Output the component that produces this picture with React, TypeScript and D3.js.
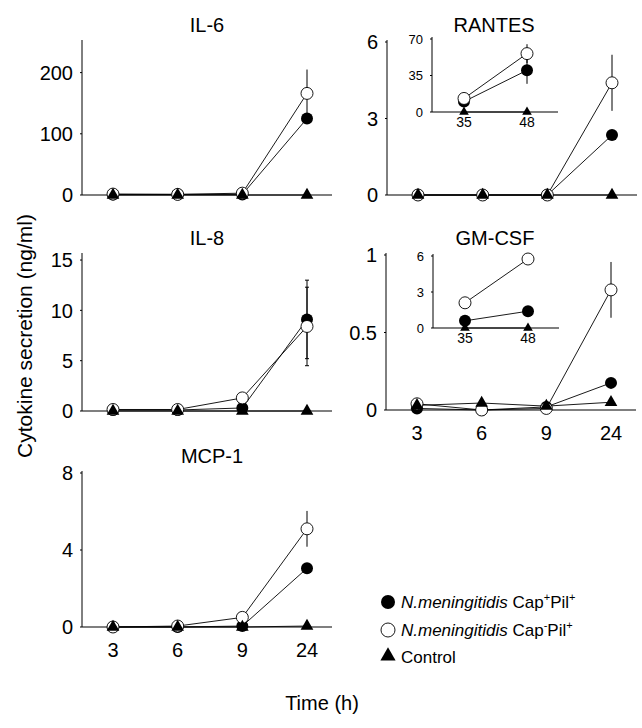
import * as d3 from "d3";

// time points (h)
const timeLabels = ["3", "6", "9", "24"];
const insetLabels = ["35", "48"];

// IL-6
const il6Filled = [1, 1, 1, 125];
const il6Open = [1.5, 1, 3, 166];
const il6Control = [0, 0, 0, 0];
const il6OpenErr = [0, 0, 0, 39];

// RANTES
const rantesFilled = [0, 0, 0, 2.35];
const rantesOpen = [0, 0, 0, 4.4];
const rantesControl = [0, 0, 0, 0];
const rantesOpenErr = [0, 0, 0, 1.1];
const rantesInsetFilled = [10, 40];
const rantesInsetOpen = [13, 56];
const rantesInsetControl = [0, 0];
const rantesInsetFilledErr = [0, 13];
const rantesInsetOpenErr = [0, 9];

// IL-8
const il8Filled = [0.1, 0.1, 0.3, 9.1];
const il8Open = [0.15, 0.15, 1.3, 8.4];
const il8Control = [0, 0, 0, 0];
const il8OpenErr = [0, 0, 0, 3.9];

// GM-CSF
const gmFilled = [0.01, 0, 0.02, 0.175];
const gmOpen = [0.04, 0, 0.01, 0.775];
const gmControl = [0.03, 0.045, 0.025, 0.05];
const gmOpenErr = [0, 0, 0, 0.18];
const gmInsetFilled = [0.6, 1.4];
const gmInsetOpen = [2.1, 5.75];
const gmInsetControl = [0, 0];
const gmInsetOpenErr = [0.3, 0];

// MCP-1
const mcpFilled = [0, 0, 0.05, 3.05];
const mcpOpen = [0, 0.05, 0.5, 5.1];
const mcpControl = [0, 0, 0, 0.05];
const mcpOpenErr = [0, 0, 0, 0.93];

const font = "'Liberation Sans', Arial, sans-serif";

function Panel(props: any) {
  const {
    x0, len, yZero, yTop, max, ticks, labels, p0, p1,
    filled, open, control, filledErr, openErr,
    showX, title, titleDx, tickSize, xTickSize, r, triSize, caps,
  } = props;
  const x = d3.scalePoint<string>().domain(labels).range([x0 + p0, x0 + p1]);
  const y = d3.scaleLinear().domain([0, max]).range([yZero, yTop]);
  const line = d3
    .line<number>()
    .x((_, i) => x(labels[i]) as number)
    .y((d) => y(d));
  const tri = d3.symbol(d3.symbolTriangle, triSize)() as string;

  const errBars = (vals: number[], errs: number[] | undefined, key: string) =>
    errs
      ? vals.map((v, i) =>
          errs[i] > 0 ? (
            <g key={key + i}>
              <line
                x1={x(labels[i])} x2={x(labels[i])}
                y1={y(v - errs[i])} y2={y(v + errs[i])}
                stroke="#000" strokeWidth={1}
              />
              {caps && (
                <>
                  <line x1={(x(labels[i]) as number) - 2} x2={(x(labels[i]) as number) + 2}
                    y1={y(v + errs[i])} y2={y(v + errs[i])} stroke="#000" />
                  <line x1={(x(labels[i]) as number) - 2} x2={(x(labels[i]) as number) + 2}
                    y1={y(v - errs[i])} y2={y(v - errs[i])} stroke="#000" />
                </>
              )}
            </g>
          ) : null
        )
      : null;

  return (
    <g fontFamily={font}>
      {title && (
        <text x={x0 + titleDx} y={yTop - 10} textAnchor="middle" fontSize={20}>
          {title}
        </text>
      )}
      <line x1={x0} x2={x0} y1={yTop - 2} y2={yZero} stroke="#000" strokeWidth={1} />
      <line x1={x0} x2={x0 + len} y1={yZero} y2={yZero} stroke="#000" strokeWidth={1.2} />
      {ticks.map((t: number) => (
        <g key={t}>
          <line x1={x0 - 2} x2={x0} y1={y(t)} y2={y(t)} stroke="#000" />
          <text x={x0 - 9} y={y(t)} dy="0.36em" textAnchor="end" fontSize={tickSize}>
            {t}
          </text>
        </g>
      ))}
      {showX &&
        labels.map((l: string) => (
          <text key={l} x={x(l)} y={yZero + (xTickSize > 16 ? 30 : 15)} textAnchor="middle" fontSize={xTickSize}>
            {l}
          </text>
        ))}
      <path d={line(filled) as string} fill="none" stroke="#000" strokeWidth={0.9} />
      <path d={line(open) as string} fill="none" stroke="#000" strokeWidth={0.9} />
      <path d={line(control) as string} fill="none" stroke="#000" strokeWidth={0.9} />
      {errBars(filled, filledErr, "fe")}
      {errBars(open, openErr, "oe")}
      {filled.map((v: number, i: number) => (
        <circle key={"f" + i} cx={x(labels[i])} cy={y(v)} r={r} fill="#000" />
      ))}
      {open.map((v: number, i: number) => (
        <circle key={"o" + i} cx={x(labels[i])} cy={y(v)} r={r} fill="#fff" stroke="#000" strokeWidth={0.9} />
      ))}
      {control.map((v: number, i: number) => (
        <path key={"c" + i} d={tri} transform={`translate(${x(labels[i])},${y(v)})`} fill="#000" />
      ))}
    </g>
  );
}

export default function App() {
  const main = { len: 250, p0: 31, p1: 225, labels: timeLabels, tickSize: 20, xTickSize: 20, r: 6, triSize: 70 };
  const inset = { len: 126, p0: 32, p1: 95, labels: insetLabels, tickSize: 13, xTickSize: 14, r: 6, triSize: 40, showX: true };
  return (
    <svg width={642} height={728} style={{ position: "absolute", left: 0, top: 0 }}>
      <rect width={642} height={728} fill="#fff" />
      <Panel {...main} title="IL-6" titleDx={125} x0={82} yZero={195} yTop={42} max={250} ticks={[0, 100, 200]}
        filled={il6Filled} open={il6Open} control={il6Control} openErr={il6OpenErr} />
      <Panel {...main} title="RANTES" titleDx={107} x0={387} yZero={195} yTop={42} max={6} ticks={[0, 3, 6]}
        filled={rantesFilled} open={rantesOpen} control={rantesControl} openErr={rantesOpenErr} />
      <Panel {...inset} x0={432} yZero={112} yTop={39} max={70} ticks={[0, 35, 70]}
        filled={rantesInsetFilled} open={rantesInsetOpen} control={rantesInsetControl}
        filledErr={rantesInsetFilledErr} openErr={rantesInsetOpenErr} />
      <Panel {...main} title="IL-8" titleDx={125} x0={82} yZero={411} yTop={255} max={15.5} ticks={[0, 5, 10, 15]}
        filled={il8Filled} open={il8Open} control={il8Control} filledErr={il8OpenErr} openErr={il8OpenErr} caps />
      <Panel {...main} title="GM-CSF" titleDx={109} x0={386} yZero={410} yTop={255} max={1} ticks={[0, 0.5, 1]} showX
        filled={gmFilled} open={gmOpen} control={gmControl} openErr={gmOpenErr} />
      <Panel {...inset} x0={433} yZero={328} yTop={256} max={6} ticks={[0, 3, 6]}
        filled={gmInsetFilled} open={gmInsetOpen} control={gmInsetControl} openErr={gmInsetOpenErr} />
      <Panel {...main} title="MCP-1" titleDx={130} x0={82} yZero={627} yTop={473} max={8} ticks={[0, 4, 8]} showX
        filled={mcpFilled} open={mcpOpen} control={mcpControl} openErr={mcpOpenErr} />

      <g fontFamily={font} fontSize={17}>
        <circle cx={388} cy={602} r={7} fill="#000" />
        <text x={401} y={608}>
          <tspan fontStyle="italic">N.meningitidis</tspan> Cap
          <tspan fontSize={11} dy={-7}>+</tspan>
          <tspan dy={7}>Pil</tspan>
          <tspan fontSize={11} dy={-7}>+</tspan>
        </text>
        <circle cx={388} cy={630} r={7} fill="#fff" stroke="#000" strokeWidth={0.9} />
        <text x={401} y={636}>
          <tspan fontStyle="italic">N.meningitidis</tspan> Cap
          <tspan fontSize={11} dy={-7}>-</tspan>
          <tspan dy={7}>Pil</tspan>
          <tspan fontSize={11} dy={-7}>+</tspan>
        </text>
        <path d={d3.symbol(d3.symbolTriangle, 100)() as string} transform="translate(388,656)" fill="#000" />
        <text x={401} y={663}>Control</text>
      </g>

      <text x={25} y={336} transform="rotate(-90 25 336)" textAnchor="middle" dy="0.35em"
        fontFamily={font} fontSize={21}>
        Cytokine secretion (ng/ml)
      </text>
      <text x={322} y={710} textAnchor="middle" fontFamily={font} fontSize={20}>
        Time (h)
      </text>
    </svg>
  );
}
